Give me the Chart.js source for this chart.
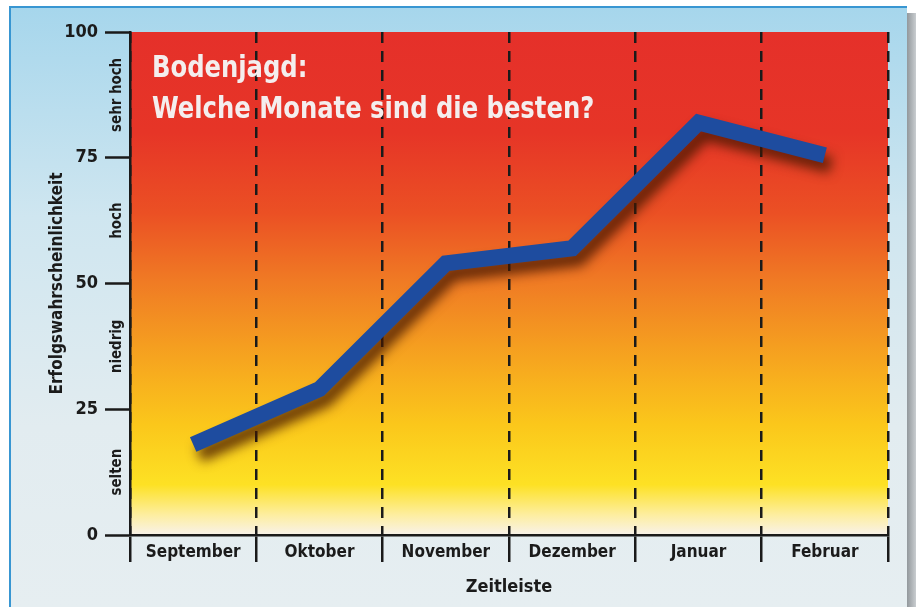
<!DOCTYPE html>
<html>
<head>
<meta charset="utf-8">
<script src="https://cdn.jsdelivr.net/npm/chart.js@4.4.1/dist/chart.umd.min.js"></script>
<style>
  html, body { margin: 0; padding: 0; background: #fff; }
  canvas { display: block; }
</style>
</head>
<body>
<canvas id="bodenChart" width="916" height="607"></canvas>
<script>
// data
const months = ['September', 'Oktober', 'November', 'Dezember', 'Januar', 'Februar'];
const chance = [18, 29, 54, 57, 82, 75.5];
const yTicks = [0, 25, 50, 75, 100];
const levelLabels = ['selten', 'niedrig', 'hoch', 'sehr hoch'];
const titleLines = ['Bodenjagd:', 'Welche Monate sind die besten?'];

const FONT = "'Liberation Sans Narrow', 'DejaVu Sans Condensed', 'Open Sans', sans-serif";
const INK = '#1b1b1b';

// backdrop: white margin, light blue panel, frame line, grey shadow at right
const backdrop = {
    id: 'backdrop',
    beforeDraw: (chart) => {
        const { ctx, chartArea } = chart;
        ctx.save();
        ctx.fillStyle = '#ffffff';
        ctx.fillRect(0, 0, chart.width, chart.height);
        // grey shadow strip
        const sh = ctx.createLinearGradient(906, 0, 916, 0);
        sh.addColorStop(0, '#8c9296');
        sh.addColorStop(1, '#c9cdd0');
        ctx.fillStyle = sh;
        ctx.fillRect(906, 13, 10, chart.height - 13);
        // light blue panel
        const bg = ctx.createLinearGradient(0, 7, 0, chart.height);
        bg.addColorStop(0, '#a6d6ec');
        bg.addColorStop(0.35, '#cfe6f0');
        bg.addColorStop(0.7, '#e2ecf0');
        bg.addColorStop(1, '#e6eef1');
        ctx.fillStyle = bg;
        ctx.fillRect(10, 7, 897, chart.height - 7);
        ctx.strokeStyle = '#3896d2';
        ctx.lineWidth = 2;
        ctx.beginPath();
        ctx.moveTo(10, chart.height);
        ctx.lineTo(10, 7);
        ctx.lineTo(907, 7);
        ctx.stroke();
        // plot area gradient red -> orange -> yellow -> white
        const { left, right, top, bottom } = chartArea;
        const g = ctx.createLinearGradient(0, top, 0, bottom);
        g.addColorStop(0, '#e5302a');
        g.addColorStop(0.2, '#e63527');
        g.addColorStop(0.36, '#eb5024');
        g.addColorStop(0.5, '#f07c24');
        g.addColorStop(0.65, '#f6a51f');
        g.addColorStop(0.78, '#fbc71b');
        g.addColorStop(0.9, '#fde124');
        g.addColorStop(0.96, '#fdeea0');
        g.addColorStop(1, '#f8f2ea');
        ctx.fillStyle = g;
        ctx.fillRect(left, top, right - left, bottom - top);
        ctx.restore();
    }
};

// drop shadow under the blue line
const lineShadow = {
    id: 'lineShadow',
    beforeDatasetDraw: (chart) => {
        const ctx = chart.ctx;
        ctx.save();
        ctx.shadowColor = 'rgba(70, 25, 0, 0.8)';
        ctx.shadowBlur = 12;
        ctx.shadowOffsetX = 6;
        ctx.shadowOffsetY = 10;
    },
    afterDatasetDraw: (chart) => {
        chart.ctx.restore();
    }
};

// condensed text: squeeze horizontally
function squeezed(ctx, txt, x, y, sx) {
    ctx.save();
    ctx.translate(x, y);
    ctx.scale(sx, 1);
    ctx.fillText(txt, 0, 0);
    ctx.restore();
}

// title inside the plot and the rotated level words next to the y axis
const annotations = {
    id: 'annotations',
    afterDraw: (chart) => {
        const { ctx, chartArea } = chart;
        const y = chart.scales.y;
        ctx.save();
        ctx.fillStyle = '#f4eeee';
        ctx.font = 'bold 31px ' + FONT;
        ctx.textAlign = 'left';
        ctx.textBaseline = 'alphabetic';
        squeezed(ctx, titleLines[0], chartArea.left + 22, 77, 0.87);
        squeezed(ctx, titleLines[1], chartArea.left + 22, 118, 0.87);

        ctx.fillStyle = INK;
        ctx.font = 'bold 16px ' + FONT;
        ctx.textAlign = 'center';
        ctx.textBaseline = 'middle';
        levelLabels.forEach((txt, i) => {
            const py = y.getPixelForValue(yTicks[i] + 12.5);
            ctx.save();
            ctx.translate(chartArea.left - 13, py);
            ctx.rotate(-Math.PI / 2);
            ctx.scale(0.93, 1);
            ctx.fillText(txt, 0, 0);
            ctx.restore();
        });
        ctx.restore();
    }
};

const config = {
    type: 'line',
    data: {
        labels: months,
        datasets: [{
            data: chance,
            borderColor: '#1e4c9f',
            borderWidth: 16,
            borderJoinStyle: 'miter',
            borderCapStyle: 'butt',
            tension: 0,
            pointRadius: 0,
            pointHoverRadius: 0,
            fill: false,
        }],
    },
    options: {
        responsive: false,
        devicePixelRatio: 1,
        animation: false,
        events: [],
        layout: { padding: { top: 32, right: 28, left: 0, bottom: 0 } },
        plugins: {
            legend: { display: false },
            tooltip: { enabled: false },
        },
        scales: {
            x: {
                offset: true,
                z: 1,
                afterFit: (s) => { s.height = 72; },
                grid: {
                    offset: true,
                    drawOnChartArea: true,
                    color: '#1a1a1a',
                    lineWidth: 2.5,
                    tickLength: 27,
                    tickWidth: 2.5,
                    tickColor: '#1a1a1a',
                },
                border: { display: true, color: '#1a1a1a', width: 2.5, dash: [11, 8] },
                ticks: {
                    color: INK,
                    padding: -20,
                    maxRotation: 0,
                    autoSkip: false,
                    font: { family: FONT, size: 17, weight: 'bold' },
                },
                title: {
                    display: true,
                    text: 'Zeitleiste',
                    color: INK,
                    font: { family: FONT, size: 18, weight: 'bold' },
                    padding: { top: 0, bottom: 9 },
                },
            },
            y: {
                min: 0,
                max: 100,
                afterFit: (s) => { s.width = 130; },
                afterBuildTicks: (s) => { s.ticks = yTicks.map(v => ({ value: v })); },
                grid: {
                    drawOnChartArea: false,
                    tickLength: 25,
                    tickWidth: 2.5,
                    tickColor: '#1a1a1a',
                },
                border: { display: true, color: '#1a1a1a', width: 2.5 },
                ticks: {
                    color: INK,
                    padding: 7,
                    font: { family: FONT, size: 18, weight: 'bold' },
                },
                title: {
                    display: true,
                    text: 'Erfolgswahrscheinlichkeit',
                    color: INK,
                    font: { family: FONT, size: 17, weight: 'bold' },
                    padding: { top: 47, bottom: 0 },
                },
            },
        },
    },
    plugins: [backdrop, lineShadow, annotations],
};

const bodenChart = new Chart(document.getElementById('bodenChart'), config);
</script>
</body>
</html>
